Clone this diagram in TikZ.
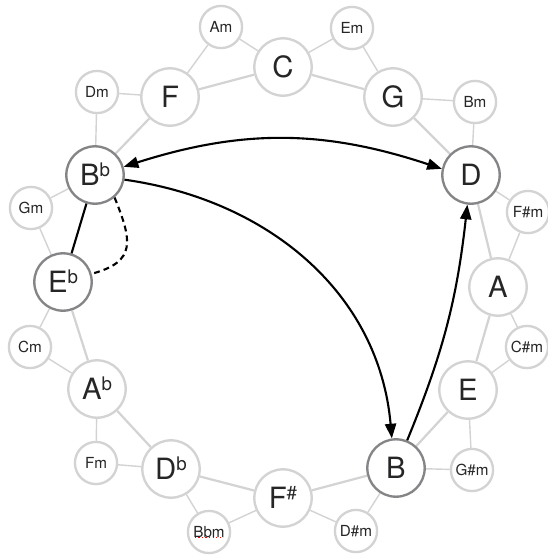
\documentclass[tikz,border=0pt]{standalone}
\usepackage{fontspec}
\setmainfont{TeX Gyre Heros}
\definecolor{ringGrey}{RGB}{211,211,211}
\definecolor{keyGrey}{RGB}{133,133,136}
\usetikzlibrary{
    arrows.meta
}
\pgfdeclarelayer{background}
\pgfsetlayers{background,main}
\newcommand{\keyacc}[1]{\raisebox{7.5pt}{\fontsize{16}{16}\selectfont #1}}
\tikzset{
    fifthsCircle/.style={
        majorkey/.style={
            circle,
            draw=ringGrey,
            line width=2pt,
            fill=white,
            minimum size=49pt,
            inner sep=0pt,
            text=black!85,
            text height=17.5pt,
            text depth=0pt,
            font=\fontsize{25}{25}\selectfont,
        },
        minorkey/.style={
            circle,
            draw=ringGrey,
            line width=2pt,
            fill=white,
            minimum size=36pt,
            inner sep=0pt,
            text=black!85,
            text height=9.3pt,
            text depth=0pt,
            font=\fontsize{13}{13}\selectfont,
        },
        activekey/.style={
            draw=keyGrey,
        },
    }
}

\begin{document}
\begin{tikzpicture}[x=0.03cm, y=-0.03cm, fifthsCircle]
    \useasboundingbox (0,0) rectangle (547,556);
    \begin{scope}
        \node[majorkey] (maj_C) at (283,67) {C};
        \node[majorkey] (maj_G) at (393,97) {G};
        \node[majorkey, activekey] (maj_D) at (471,175) {D};
        \node[majorkey] (maj_A) at (498,287) {A};
        \node[majorkey] (maj_E) at (468,390) {E};
        \node[majorkey, activekey] (maj_B) at (396,468) {B};
        \node[majorkey] (maj_Fs) at (283,498) {F\keyacc{\#}};
        \node[majorkey] (maj_Db) at (171,469) {D\keyacc{b}};
        \node[majorkey] (maj_Ab) at (97,389) {A\keyacc{b}};
        \node[majorkey, activekey] (maj_Eb) at (63,282) {E\keyacc{b}};
        \node[majorkey, activekey] (maj_Bb) at (95,175) {B\keyacc{b}};
        \node[majorkey] (maj_F) at (170,97) {F};
    \end{scope}

    \begin{scope}
        \node[minorkey] (min_Am) at (221,27) {Am};
        \node[minorkey] (min_Em) at (352,28) {Em};
        \node[minorkey] (min_Bm) at (475,102) {Bm};
        \node[minorkey] (min_Fsm) at (528,212) {F\#m};
        \node[minorkey] (min_Csm) at (527,347) {C\#m};
        \node[minorkey] (min_Gsm) at (472,470) {G\#m};
        \node[minorkey] (min_Dsm) at (356,531) {D\#m};
        \node[minorkey] (min_Bbm) at (209,532) {Bbm};
        \node[minorkey] (min_Fm) at (96,463) {Fm};
        \node[minorkey] (min_Cm) at (30,347) {Cm};
        \node[minorkey] (min_Gm) at (31,208) {Gm};
        \node[minorkey] (min_Dm) at (97,92) {Dm};
    \end{scope}

    \begin{pgfonlayer}{background}
        \begin{scope} [every edge/.style={draw=ringGrey, line width=1.9pt}]
            \path (maj_C) edge (maj_G);
            \path (maj_G) edge (maj_D);
            \path (maj_D) edge (maj_A);
            \path (maj_A) edge (maj_E);
            \path (maj_E) edge (maj_B);
            \path (maj_B) edge (maj_Fs);
            \path (maj_Fs) edge (maj_Db);
            \path (maj_Db) edge (maj_Ab);
            \path (maj_Ab) edge (maj_Eb);
            \path (maj_Bb) edge (maj_F);
            \path (maj_F) edge (maj_C);
        \end{scope}
        \begin{scope} [every edge/.style={draw=ringGrey, line width=1.2pt}]
            \path (min_Am) edge (maj_F) edge (maj_C);
            \path (min_Em) edge (maj_C) edge (maj_G);
            \path (min_Bm) edge (maj_G) edge (maj_D);
            \path (min_Fsm) edge (maj_D) edge (maj_A);
            \path (min_Csm) edge (maj_A) edge (maj_E);
            \path (min_Gsm) edge (maj_E) edge (maj_B);
            \path (min_Dsm) edge (maj_B) edge (maj_Fs);
            \path (min_Bbm) edge (maj_Fs) edge (maj_Db);
            \path (min_Fm) edge (maj_Db) edge (maj_Ab);
            \path (min_Cm) edge (maj_Ab) edge (maj_Eb);
            \path (min_Gm) edge (maj_Eb) edge (maj_Bb);
            \path (min_Dm) edge (maj_Bb) edge (maj_F);
        \end{scope}
    \end{pgfonlayer}

    \draw[red, dotted, line width=1pt] ([xshift=-12pt,yshift=-5pt]min_Bbm.center) -- ([xshift=12pt,yshift=-5pt]min_Bbm.center);

    \begin{scope} [>={Triangle[length=12.5pt,width=9.5pt]}, every edge/.style={draw=black, line width=1.8pt}]
        \path [<->] (maj_Bb.16) edge[bend left=18] (maj_D.168);
        \path [->] (maj_Bb.-9) edge[out=-8, in=95] (maj_B.98);
        \path [->] (maj_B.68) edge[bend right=8] (maj_D.-97);
        \path (maj_Bb) edge (maj_Eb);
        \path [dashed, dash pattern=on 5pt off 3.5pt] (maj_Bb.-49) edge[out=-68, in=15, looseness=1.5] (maj_Eb.16);
    \end{scope}
\end{tikzpicture}
\end{document}
